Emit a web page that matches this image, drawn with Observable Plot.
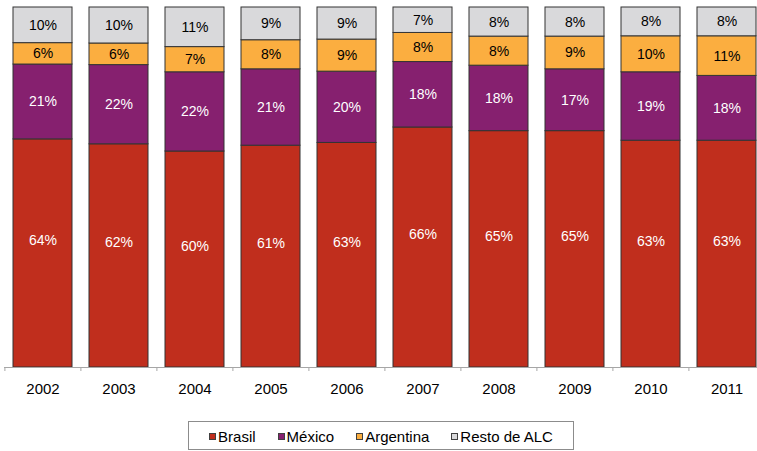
<!DOCTYPE html>
<html><head><meta charset="utf-8">
<script src="https://cdn.jsdelivr.net/npm/d3@7"></script>
<script src="https://cdn.jsdelivr.net/npm/@observablehq/plot@0.6"></script>
<style>
html,body{margin:0;padding:0;background:#fff;overflow:hidden;width:757px;height:451px;}
body{font-family:"Liberation Sans",Arial,sans-serif;position:relative;}
#chart{position:absolute;left:0;top:0;width:766px;}
#chart svg{max-width:none !important;}
#legend{position:absolute;left:188px;top:421px;width:386px;height:29px;border:1px solid #8c8c8c;box-sizing:border-box;display:flex;align-items:center;justify-content:center;gap:22px;font-size:15px;color:#000;padding-top:1px;}
.item{display:flex;align-items:center;}
.sw{width:5px;height:5px;border:1px solid #404040;margin-right:2px;}
</style>
</head><body>
<div id="chart"></div>
<div id="legend"></div>
<script>
const years = ["2002","2003","2004","2005","2006","2007","2008","2009","2010","2011"];
const seriesNames = ["Brasil","México","Argentina","Resto de ALC"];
const brasil    = [64,62,60,61,63,66,65,65,63,63];
const mexico    = [21,22,22,21,20,18,18,17,19,18];
const argentina = [6,6,7,8,9,8,8,9,10,11];
const resto     = [10,10,11,9,9,7,8,8,8,8];
const colors = ["#C02E1D","#86206F","#FBAE40","#D9D9DB"];
const labelColors = ["#ffffff","#ffffff","#000000","#000000"];

const valuesBySeries = [brasil, mexico, argentina, resto];
const data = [];
seriesNames.forEach((s, si) => {
  years.forEach((y, yi) => data.push({year: y, series: s, value: valuesBySeries[si][yi], label: valuesBySeries[si][yi] + "%", lc: labelColors[si]}));
});

const W = 766, ML = 4, MR = 0;
const step = (W - ML - MR) / years.length;
const stackOpts = {offset: "normalize", x: "year", y: "value", z: "series"};

const chart = Plot.plot({
  width: W, height: 400,
  marginLeft: ML, marginRight: MR, marginTop: 7, marginBottom: 33,
  style: {fontFamily: '"Liberation Sans", Arial, sans-serif', background: "#fff", overflow: "visible", maxWidth: "none"},
  x: {domain: years, paddingInner: 0.22, paddingOuter: 0.11, label: null},
  y: {axis: null, domain: [0, 1], label: null},
  color: {domain: seriesNames, range: colors},
  marks: [
    Plot.barY(data, Plot.stackY({...stackOpts, fill: "series", stroke: "#333", strokeWidth: 1})),
    Plot.text(data, Plot.stackY({...stackOpts, text: d => d.series === "Brasil" ? "" : d.label, fill: "lc", fontSize: 14})),
    Plot.text(data, Plot.stackY({...stackOpts, text: d => d.series === "Brasil" ? d.label : "", fill: "lc", fontSize: 14, dy: -13})),
    Plot.ruleY([0], {stroke: "#a6a6a6", strokeWidth: 1.2}),
    Plot.axisX({tickSize: 4, tickFormat: () => "", dx: -step / 2, stroke: "#a6a6a6", label: null}),
    Plot.axisX({tickSize: 0, tickPadding: 16, fontSize: 15, fill: "#000", label: null})
  ]
});
document.getElementById("chart").appendChild(chart);

const legend = document.getElementById("legend");
seriesNames.forEach((s, i) => {
  const it = document.createElement("div"); it.className = "item";
  const sw = document.createElement("span"); sw.className = "sw"; sw.style.background = colors[i];
  const tx = document.createElement("span"); tx.textContent = s;
  it.appendChild(sw); it.appendChild(tx); legend.appendChild(it);
});
</script>
</body></html>
